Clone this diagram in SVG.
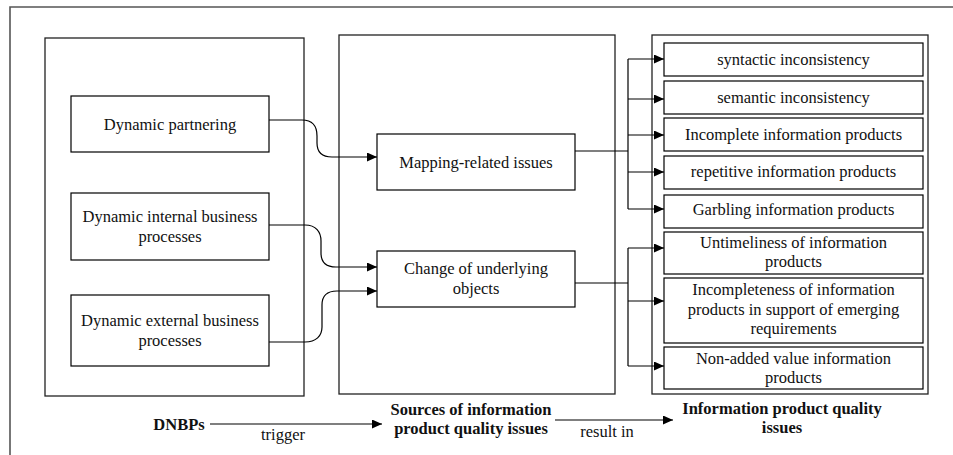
<svg xmlns="http://www.w3.org/2000/svg" width="953" height="455" viewBox="0 0 953 455">
  <style>
    .frame { fill: none; stroke: #555; stroke-width: 1.6; }
    .group { fill: #fff; stroke: #222; stroke-width: 1.3; }
    .box { fill: #fff; stroke: #000; stroke-width: 1.2; }
    .conn { fill: none; stroke: #000; stroke-width: 1.2; }
    text { font-size: 16.5px; fill: #111; text-anchor: middle; }
    .bold { font-weight: bold; }
  </style>
  <defs>
    <marker id="arrow" markerUnits="userSpaceOnUse" markerWidth="11" markerHeight="10" refX="10" refY="4.5" orient="auto">
      <path d="M0,0 L10,4.5 L0,9 Z" fill="#000"/>
    </marker>
  </defs>

  <rect width="953" height="455" fill="#fff"/>
  <!-- open outer frame -->
  <path class="frame" d="M10,455 V7 H953"/>

  <g font-family="'Liberation Serif', 'DejaVu Serif', serif">
  <!-- column containers -->
  <g id="dnbps-group"><rect class="group" x="45" y="38" width="259" height="358"/></g>
  <g id="sources-group"><rect class="group" x="339" y="35" width="276" height="359"/></g>
  <g id="issues-group"><rect class="group" x="652" y="35" width="276" height="359"/></g>

  <!-- DNBPs -->
  <g id="dynamic-partnering">
    <rect class="box" x="71" y="96" width="198" height="56"/>
    <text x="170" y="130">Dynamic partnering</text>
  </g>
  <g id="dynamic-internal">
    <rect class="box" x="71" y="193" width="198" height="67"/>
    <text x="170" y="222">Dynamic internal business</text>
    <text x="170" y="242">processes</text>
  </g>
  <g id="dynamic-external">
    <rect class="box" x="71" y="295" width="198" height="71"/>
    <text x="170" y="326">Dynamic external business</text>
    <text x="170" y="346">processes</text>
  </g>

  <!-- sources -->
  <g id="mapping-issues">
    <rect class="box" x="377" y="134" width="198" height="56"/>
    <text x="476" y="167.5">Mapping-related issues</text>
  </g>
  <g id="change-objects">
    <rect class="box" x="377" y="251" width="198" height="56"/>
    <text x="476" y="274">Change of underlying</text>
    <text x="476" y="294">objects</text>
  </g>

  <!-- quality issues -->
  <g id="syntactic">
    <rect class="box" x="664" y="43" width="259" height="33"/>
    <text x="793.5" y="65">syntactic inconsistency</text>
  </g>
  <g id="semantic">
    <rect class="box" x="664" y="81" width="259" height="33"/>
    <text x="793.5" y="103">semantic inconsistency</text>
  </g>
  <g id="incomplete">
    <rect class="box" x="664" y="118" width="259" height="33"/>
    <text x="793.5" y="139.5">Incomplete information products</text>
  </g>
  <g id="repetitive">
    <rect class="box" x="664" y="156" width="259" height="33"/>
    <text x="793.5" y="177">repetitive information products</text>
  </g>
  <g id="garbling">
    <rect class="box" x="664" y="195" width="259" height="33"/>
    <text x="793.5" y="215">Garbling information products</text>
  </g>
  <g id="untimeliness">
    <rect class="box" x="664" y="232" width="259" height="42"/>
    <text x="793.5" y="248">Untimeliness of information</text>
    <text x="793.5" y="267">products</text>
  </g>
  <g id="incompleteness">
    <rect class="box" x="664" y="278" width="259" height="65"/>
    <text x="793.5" y="295">Incompleteness of information</text>
    <text x="793.5" y="315">products in support of emerging</text>
    <text x="793.5" y="334">requirements</text>
  </g>
  <g id="non-added-value">
    <rect class="box" x="664" y="347" width="259" height="42"/>
    <text x="793.5" y="363.5">Non-added value information</text>
    <text x="793.5" y="383">products</text>
  </g>

  <!-- bottom legend -->
  <g id="legend-dnbps"><text class="bold" x="179" y="430">DNBPs</text></g>
  <g id="legend-sources">
    <text class="bold" x="471" y="415">Sources of information</text>
    <text class="bold" x="471" y="434">product quality issues</text>
  </g>
  <g id="legend-issues">
    <text class="bold" x="782" y="414">Information product quality</text>
    <text class="bold" x="782" y="433">issues</text>
  </g>

  <g id="connectors">
    <!-- DNBPs to sources -->
    <path class="conn" marker-end="url(#arrow)" d="M269,120 H302 C313,120 317,127 317,136 V143 C317,152 322,157 332,157 H377"/>
    <path class="conn" marker-end="url(#arrow)" d="M269,225 H305 C316,225 321,232 321,241 V253 C321,262 326,267 336,267 H377"/>
    <path class="conn" marker-end="url(#arrow)" d="M269,342 H305 C316,342 322,336 322,327 V305 C322,296 327,291 337,291 H377"/>

    <!-- mapping issues fan-out -->
    <path class="conn" d="M575,151 H628 M628,59 V209"/>
    <path class="conn" marker-end="url(#arrow)" d="M628,59 H664"/>
    <path class="conn" marker-end="url(#arrow)" d="M628,99 H664"/>
    <path class="conn" marker-end="url(#arrow)" d="M628,135 H664"/>
    <path class="conn" marker-end="url(#arrow)" d="M628,172 H664"/>
    <path class="conn" marker-end="url(#arrow)" d="M628,209 H664"/>

    <!-- change of objects fan-out -->
    <path class="conn" d="M575,283 H628 M628,248 V366"/>
    <path class="conn" marker-end="url(#arrow)" d="M628,248 H664"/>
    <path class="conn" marker-end="url(#arrow)" d="M628,301 H664"/>
    <path class="conn" marker-end="url(#arrow)" d="M628,366 H664"/>

    <!-- legend arrows -->
    <path class="conn" marker-end="url(#arrow)" d="M210,424 H382"/>
    <text x="283" y="440">trigger</text>
    <path class="conn" marker-end="url(#arrow)" d="M555,420 H673"/>
    <text x="607" y="437">result in</text>
  </g>
  </g>
</svg>
